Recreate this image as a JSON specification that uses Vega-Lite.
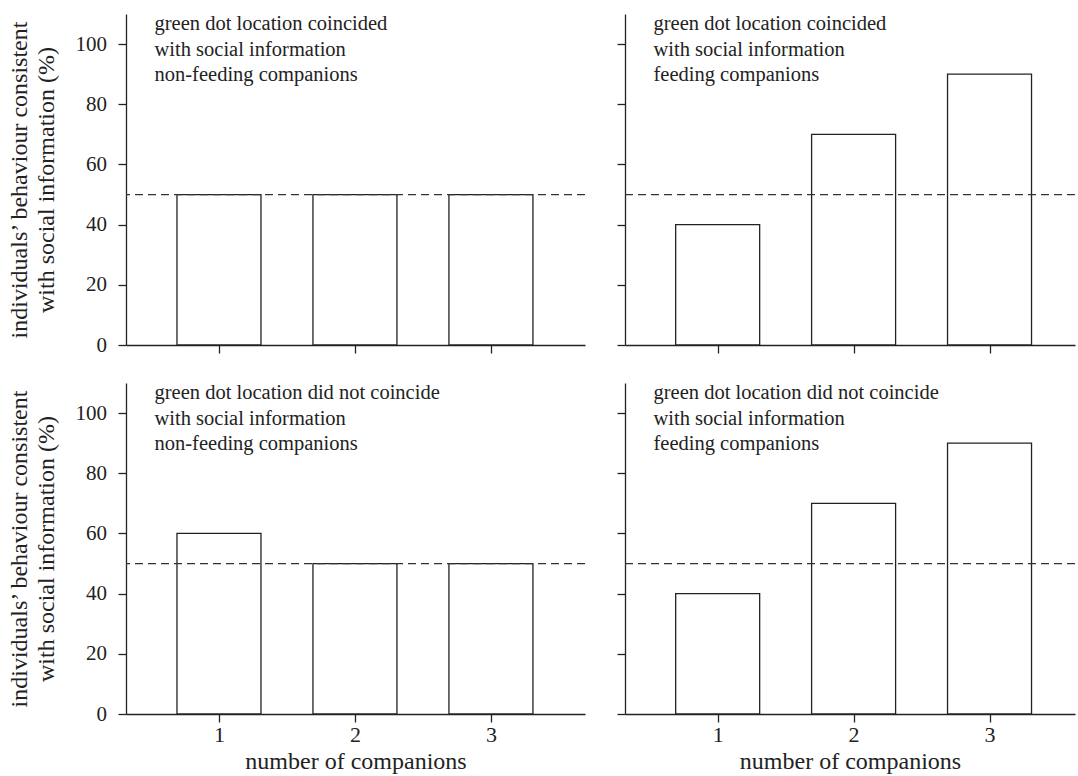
{
  "$schema": "https://vega.github.io/schema/vega-lite/v6.json",
  "background": "white",
  "padding": {"left": 6, "top": 14, "right": 0, "bottom": 2},
  "config": {
    "view": {"stroke": null},
    "font": "Liberation Serif",
    "axis": {
      "grid": false,
      "domainColor": "#222",
      "domainWidth": 1.3,
      "tickColor": "#222",
      "tickWidth": 1.3,
      "tickSize": 8,
      "labelFont": "Liberation Serif",
      "labelFontSize": 21,
      "labelColor": "#222",
      "titleFont": "Liberation Serif",
      "titleFontSize": 24,
      "titleFontWeight": "normal",
      "titleColor": "#222"
    }
  },
  "datasets": {
    "bars": [
      {"panel": "A", "companions": 1, "pct": 50},
      {"panel": "A", "companions": 2, "pct": 50},
      {"panel": "A", "companions": 3, "pct": 50},
      {"panel": "B", "companions": 1, "pct": 40},
      {"panel": "B", "companions": 2, "pct": 70},
      {"panel": "B", "companions": 3, "pct": 90},
      {"panel": "C", "companions": 1, "pct": 60},
      {"panel": "C", "companions": 2, "pct": 50},
      {"panel": "C", "companions": 3, "pct": 50},
      {"panel": "D", "companions": 1, "pct": 40},
      {"panel": "D", "companions": 2, "pct": 70},
      {"panel": "D", "companions": 3, "pct": 90}
    ]
  },
  "columns": 2,
  "spacing": {"row": 38, "column": 40},
  "bounds": "flush",
  "concat": [
    {
      "width": 459, "height": 331,
      "layer": [
        {
          "data": {"name": "bars"},
          "transform": [{"filter": "datum.panel === 'A'"}],
          "mark": {"type": "bar", "size": 84, "fill": "white", "stroke": "#222", "strokeWidth": 1.3},
          "encoding": {
            "x": {"field": "companions", "type": "quantitative", "scale": {"domain": [0.353, 3.655], "nice": false, "zero": false},
                  "axis": {"values": [1, 2, 3], "labels": false, "title": null}},
            "y": {"field": "pct", "type": "quantitative", "scale": {"domain": [0, 110], "nice": false},
                  "axis": {"values": [0, 20, 40, 60, 80, 100], "labelPadding": 11.5,
                           "title": ["individuals’ behaviour consistent", "with social information (%)"],
                           "titleX": -107, "titleY": 165.5, "titleBaseline": "middle", "titleLineHeight": 27}}
          }
        },
        {
          "data": {"values": [{}]},
          "mark": {"type": "rule", "stroke": "#333", "strokeWidth": 1.2, "strokeDash": [8, 5]},
          "encoding": {"y": {"datum": 50}}
        },
        {
          "data": {"values": [{}]},
          "mark": {"type": "text", "align": "left", "baseline": "top", "fontSize": 20.5, "lineHeight": 25.7, "color": "#222",
                   "text": ["green dot location coincided", "with social information", "non-feeding companions"]},
          "encoding": {"x": {"datum": 0.526}, "y": {"datum": 110}}
        }
      ]
    },
    {
      "width": 450, "height": 331,
      "layer": [
        {
          "data": {"name": "bars"},
          "transform": [{"filter": "datum.panel === 'B'"}],
          "mark": {"type": "bar", "size": 84, "fill": "white", "stroke": "#222", "strokeWidth": 1.3},
          "encoding": {
            "x": {"field": "companions", "type": "quantitative", "scale": {"domain": [0.355, 3.592], "nice": false, "zero": false},
                  "axis": {"values": [1, 2, 3], "labels": false, "title": null}},
            "y": {"field": "pct", "type": "quantitative", "scale": {"domain": [0, 110], "nice": false},
                  "axis": {"values": [0, 20, 40, 60, 80, 100], "labels": false, "title": null}}
          }
        },
        {
          "data": {"values": [{}]},
          "mark": {"type": "rule", "stroke": "#333", "strokeWidth": 1.2, "strokeDash": [8, 5]},
          "encoding": {"y": {"datum": 50}}
        },
        {
          "data": {"values": [{}]},
          "mark": {"type": "text", "align": "left", "baseline": "top", "fontSize": 20.5, "lineHeight": 25.7, "color": "#222",
                   "text": ["green dot location coincided", "with social information", "feeding companions"]},
          "encoding": {"x": {"datum": 0.528}, "y": {"datum": 110}}
        }
      ]
    },
    {
      "width": 459, "height": 331,
      "layer": [
        {
          "data": {"name": "bars"},
          "transform": [{"filter": "datum.panel === 'C'"}],
          "mark": {"type": "bar", "size": 84, "fill": "white", "stroke": "#222", "strokeWidth": 1.3},
          "encoding": {
            "x": {"field": "companions", "type": "quantitative", "scale": {"domain": [0.353, 3.655], "nice": false, "zero": false},
                  "axis": {"values": [1, 2, 3], "format": "d", "labelPadding": 2, "labelFontSize": 22, "title": "number of companions", "titleFontSize": 24, "titlePadding": 4}},
            "y": {"field": "pct", "type": "quantitative", "scale": {"domain": [0, 110], "nice": false},
                  "axis": {"values": [0, 20, 40, 60, 80, 100], "labelPadding": 11.5,
                           "title": ["individuals’ behaviour consistent", "with social information (%)"],
                           "titleX": -107, "titleY": 165.5, "titleBaseline": "middle", "titleLineHeight": 27}}
          }
        },
        {
          "data": {"values": [{}]},
          "mark": {"type": "rule", "stroke": "#333", "strokeWidth": 1.2, "strokeDash": [8, 5]},
          "encoding": {"y": {"datum": 50}}
        },
        {
          "data": {"values": [{}]},
          "mark": {"type": "text", "align": "left", "baseline": "top", "fontSize": 20.5, "lineHeight": 25.7, "color": "#222",
                   "text": ["green dot location did not coincide", "with social information", "non-feeding companions"]},
          "encoding": {"x": {"datum": 0.526}, "y": {"datum": 110}}
        }
      ]
    },
    {
      "width": 450, "height": 331,
      "layer": [
        {
          "data": {"name": "bars"},
          "transform": [{"filter": "datum.panel === 'D'"}],
          "mark": {"type": "bar", "size": 84, "fill": "white", "stroke": "#222", "strokeWidth": 1.3},
          "encoding": {
            "x": {"field": "companions", "type": "quantitative", "scale": {"domain": [0.355, 3.592], "nice": false, "zero": false},
                  "axis": {"values": [1, 2, 3], "format": "d", "labelPadding": 2, "labelFontSize": 22, "title": "number of companions", "titleFontSize": 24, "titlePadding": 4}},
            "y": {"field": "pct", "type": "quantitative", "scale": {"domain": [0, 110], "nice": false},
                  "axis": {"values": [0, 20, 40, 60, 80, 100], "labels": false, "title": null}}
          }
        },
        {
          "data": {"values": [{}]},
          "mark": {"type": "rule", "stroke": "#333", "strokeWidth": 1.2, "strokeDash": [8, 5]},
          "encoding": {"y": {"datum": 50}}
        },
        {
          "data": {"values": [{}]},
          "mark": {"type": "text", "align": "left", "baseline": "top", "fontSize": 20.5, "lineHeight": 25.7, "color": "#222",
                   "text": ["green dot location did not coincide", "with social information", "feeding companions"]},
          "encoding": {"x": {"datum": 0.528}, "y": {"datum": 110}}
        }
      ]
    }
  ]
}
